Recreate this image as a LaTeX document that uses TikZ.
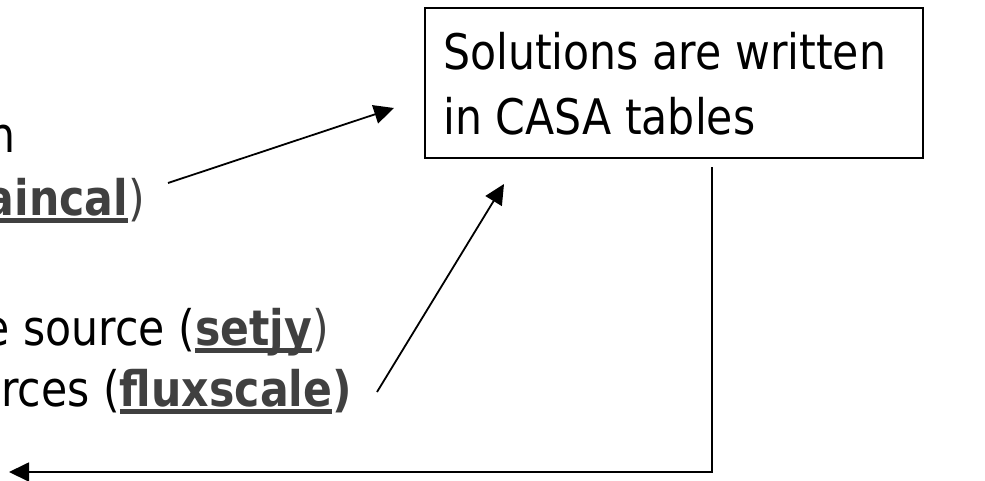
\documentclass[tikz,border=0pt]{standalone}
\usepackage{fontspec}
\setmainfont{DejaVu Sans}[FakeStretch=0.87]
\usetikzlibrary{arrows.meta}
\definecolor{cmdgray}{RGB}{64,64,64}
\newcommand\gbu[1]{\setbox0\hbox{\bfseries\color{cmdgray}#1}\rlap{\color{cmdgray}\rule[-8pt]{\wd0}{5pt}}\box0}
\begin{document}
\begin{tikzpicture}[x=1pt,y=-1pt,
  lefttxt/.style={anchor=base east, inner sep=0pt, font=\fontsize{49pt}{63pt}\selectfont},
  boxtxt/.style={anchor=base west, inner sep=0pt, font=\fontsize{49pt}{64pt}\selectfont},
  conn/.style={line width=1.8pt, -{Triangle[length=20pt,width=19pt]}}]
\useasboundingbox (0,0) rectangle (985,480);
\clip (0,0) rectangle (985,480);
\node[draw, line width=1.5pt, anchor=north west, minimum width=498pt, minimum height=150pt, inner sep=0pt] (box) at (424,7) {};
\node[boxtxt] (sol1) at (443,69) {Solutions are written};
\node[boxtxt] (sol2) at (443,134) {in CASA tables};
\node[lefttxt] (la) at (16,152) {n};
\node[lefttxt] (lb) at (145,215) {\gbu{aincal})};
\node[lefttxt] (lc) at (329,345) {e source (\gbu{setjy})};
\node[lefttxt] (ld) at (352,406) {rces (\gbu{fluxscale}\textbf{)}};
\coordinate (a1s) at (168,183);
\coordinate (a1e) at (394,108);
\coordinate (a2s) at (377,392);
\coordinate (a2e) at (504,184);
\coordinate (a3s) at (712,167);
\coordinate (a3m) at (712,472);
\coordinate (a3e) at (9,472);
\draw[conn] (a1s) -- (a1e);
\draw[conn] (a2s) -- (a2e);
\draw[conn] (a3s) -- (a3m) -- (a3e);
\end{tikzpicture}
\end{document}
